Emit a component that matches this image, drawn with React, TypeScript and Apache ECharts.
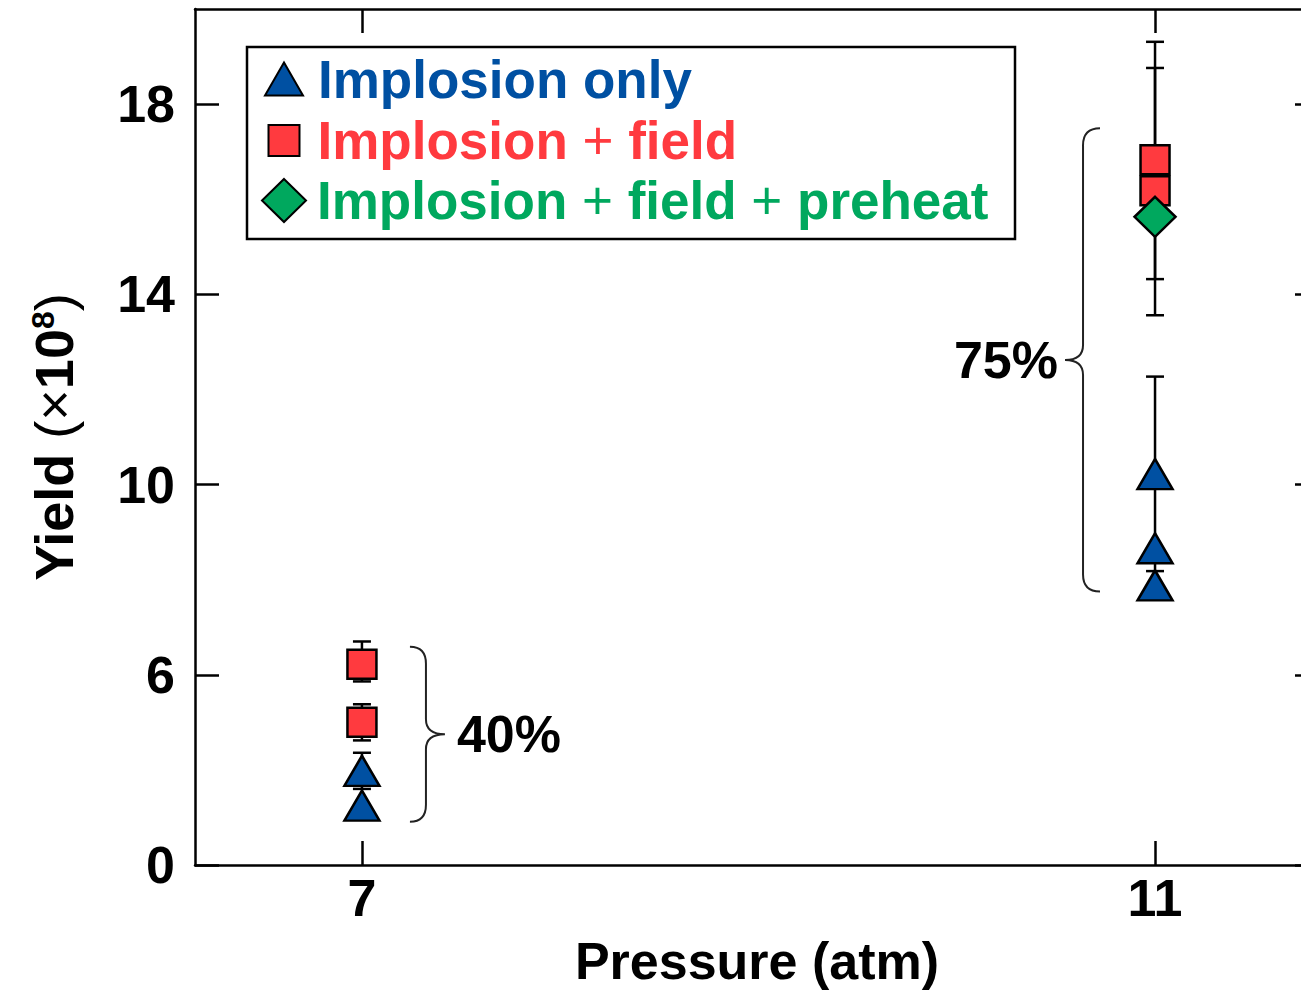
import React, { useEffect, useRef } from "react";
import * as echarts from "echarts";

// ---- data ----
const implosionOnlyX = [7, 7, 11, 11, 11];
const implosionOnlyY = [3.98, 3.25, 10.22, 8.66, 7.88];

const fieldX = [7, 7, 11, 11];
const fieldY = [6.22, 5.0, 16.18, 16.83];

const preheatX = [11];
const preheatY = [15.63];

const errX = [7, 7, 7, 11, 11, 11];
const errLow = [3.6, 5.86, 4.62, 8.18, 14.32, 13.56];
const errHigh = [4.36, 6.7, 5.38, 12.27, 19.31, 18.76];

const braceX = [7, 11];
const braceLow = [2.91, 7.75];
const braceHigh = [6.59, 17.49];
const braceSide = [1, -1];
const braceLabels = ["40%", "75%"];

const xTicks = [7, 11];
const yTicks = [2, 6, 10, 14, 18];
const yTickLabels = ["0", "6", "10", "14", "18"];

const seriesNames = ["Implosion only", "Implosion + field", "Implosion + field + preheat"];

const BLUE = "#0050A2";
const RED = "#FF3A3F";
const GREEN = "#00A85E";
const FONT = "'Liberation Sans', Arial, Helvetica, sans-serif";

export default function App() {
  const ref = useRef<HTMLDivElement>(null);

  useEffect(() => {
    const chart = echarts.init(ref.current!, null, { renderer: "svg" });

    const axisLine = { show: true, lineStyle: { color: "#000", width: 2.5 } };
    const tickStyle = { color: "#000", width: 2.5 };
    const labelStyle = {
      fontSize: 52,
      fontWeight: "bold" as const,
      color: "#000",
      fontFamily: FONT,
    };
    const legendText = (color: string, pad: number) => ({
      ...labelStyle,
      fontSize: 53,
      color,
      padding: [0, 0, 0, pad],
      rich: {
        p: { fontSize: 53, fontWeight: "normal", color, fontFamily: FONT },
      },
    });
    const legendFormatter = (name: string) => name.replace(/\+/g, "{p|+}");

    const option: any = {
      animation: false,
      textStyle: { fontFamily: FONT },
      grid: { left: 195, top: 9, right: 0, bottom: 132, containLabel: false },
      xAxis: [
        {
          type: "value",
          min: 6.158,
          max: 11.827,
          position: "bottom",
          axisLine,
          splitLine: { show: false },
          axisTick: { show: true, inside: true, length: 24, customValues: xTicks, lineStyle: tickStyle },
          axisLabel: { ...labelStyle, customValues: xTicks, margin: 7 },
          name: "Pressure (atm)",
          nameLocation: "middle",
          nameGap: 70,
          nameTextStyle: labelStyle,
        },
        {
          type: "value",
          min: 6.158,
          max: 11.827,
          position: "top",
          axisLine,
          splitLine: { show: false },
          axisTick: { show: true, inside: true, length: 24, customValues: xTicks, lineStyle: tickStyle },
          axisLabel: { show: false },
        },
      ],
      yAxis: [
        {
          type: "value",
          min: 2,
          max: 20,
          position: "left",
          axisLine,
          splitLine: { show: false },
          axisTick: { show: true, inside: true, length: 24, customValues: yTicks, lineStyle: tickStyle },
          axisLabel: {
            ...labelStyle,
            customValues: yTicks,
            margin: 20,
            formatter: (v: number) => yTickLabels[yTicks.indexOf(v)] ?? String(v),
          },
          name: "Yield {n|(×}10{sup|8}{n|)}",
          nameLocation: "middle",
          nameGap: 114,
          nameTextStyle: {
            ...labelStyle,
            fontSize: 54,
            rich: {
              n: { fontSize: 54, fontWeight: "normal", color: "#000", fontFamily: FONT },
              sup: { fontSize: 32, fontWeight: "bold", color: "#000", fontFamily: FONT, verticalAlign: "top" },
            },
          },
        },
        {
          type: "value",
          min: 2,
          max: 20,
          position: "right",
          axisLine,
          splitLine: { show: false },
          axisTick: { show: true, inside: true, length: 24, customValues: yTicks, lineStyle: tickStyle },
          axisLabel: { show: false },
        },
      ],
      legend: [
        {
          data: [seriesNames[0]],
          left: 264,
          top: 52.5,
          padding: 0,
          itemWidth: 38,
          itemHeight: 33,
          selectedMode: false,
          formatter: legendFormatter,
          textStyle: legendText(BLUE, 10),
        },
        {
          data: [seriesNames[1]],
          left: 267.5,
          top: 114,
          padding: 0,
          itemWidth: 31,
          itemHeight: 31,
          selectedMode: false,
          formatter: legendFormatter,
          textStyle: legendText(RED, 13),
        },
        {
          data: [seriesNames[2]],
          left: 261,
          top: 174,
          padding: 0,
          itemWidth: 44,
          itemHeight: 43,
          selectedMode: false,
          formatter: legendFormatter,
          textStyle: legendText(GREEN, 6),
        },
      ],
      graphic: [
        {
          type: "rect",
          shape: { x: 247, y: 47, width: 768, height: 192 },
          style: { fill: "none", stroke: "#000", lineWidth: 2.5 },
          z: 10,
        },
      ],
      series: [
        {
          type: "custom",
          name: "error bars",
          z: 1,
          renderItem: (params: any, api: any) => {
            const x = api.value(0);
            const p = api.coord([x, api.value(2)]);
            const q = api.coord([x, api.value(1)]);
            const st = { stroke: "#000", lineWidth: 2.5 };
            return {
              type: "group",
              children: [
                { type: "line", shape: { x1: p[0], y1: p[1], x2: q[0], y2: q[1] }, style: st },
                { type: "line", shape: { x1: p[0] - 9, y1: p[1], x2: p[0] + 9, y2: p[1] }, style: st },
                { type: "line", shape: { x1: q[0] - 9, y1: q[1], x2: q[0] + 9, y2: q[1] }, style: st },
              ],
            };
          },
          data: errX.map((x, i) => [x, errLow[i], errHigh[i]]),
        },
        {
          type: "custom",
          name: "braces",
          z: 1,
          renderItem: (params: any, api: any) => {
            const x = api.value(0);
            const side = api.value(3);
            const pt = api.coord([x, api.value(2)]);
            const pb = api.coord([x, api.value(1)]);
            const off = side > 0 ? [48, 64, 83] : [55, 72, 90];
            const x0 = pt[0] + side * off[0];
            const xm = pt[0] + side * off[1];
            const x1 = pt[0] + side * off[2];
            const yT = pt[1];
            const yB = pb[1];
            const yM = (yT + yB) / 2;
            const r = 17;
            const rm = 15;
            const d =
              `M${x0},${yT} Q${xm},${yT} ${xm},${yT + r} L${xm},${yM - rm} ` +
              `Q${xm},${yM} ${x1},${yM} Q${xm},${yM} ${xm},${yM + rm} ` +
              `L${xm},${yB - r} Q${xm},${yB} ${x0},${yB}`;
            return {
              type: "group",
              children: [
                {
                  type: "path",
                  shape: { pathData: d },
                  style: { fill: "none", stroke: "#222", lineWidth: 2 },
                },
                {
                  type: "text",
                  x: side > 0 ? x1 + 12 : x1 - 7,
                  y: yM,
                  style: {
                    text: braceLabels[params.dataIndex],
                    fontSize: 52,
                    fontWeight: "bold",
                    fontFamily: FONT,
                    fill: "#000",
                    align: side > 0 ? "left" : "right",
                    verticalAlign: "middle",
                  },
                },
              ],
            };
          },
          data: braceX.map((x, i) => [x, braceLow[i], braceHigh[i], braceSide[i]]),
        },
        {
          type: "scatter",
          name: seriesNames[0],
          z: 3,
          symbol: "triangle",
          symbolSize: [35, 30],
          itemStyle: { color: BLUE, borderColor: "#000", borderWidth: 2.5, opacity: 1 },
          data: implosionOnlyX.map((x, i) => [x, implosionOnlyY[i]]),
        },
        {
          type: "scatter",
          name: seriesNames[1],
          z: 4,
          symbol: "rect",
          symbolSize: 29,
          itemStyle: { color: RED, borderColor: "#000", borderWidth: 2.5, opacity: 1 },
          data: fieldX.map((x, i) => [x, fieldY[i]]),
        },
        {
          type: "scatter",
          name: seriesNames[2],
          z: 5,
          symbol: "diamond",
          symbolSize: [41, 40],
          itemStyle: { color: GREEN, borderColor: "#000", borderWidth: 2.5, opacity: 1 },
          data: preheatX.map((x, i) => [x, preheatY[i]]),
        },
      ],
    };

    chart.setOption(option);
    return () => chart.dispose();
  }, []);

  return (
    <div
      style={{
        position: "absolute",
        left: 0,
        top: 0,
        width: 1301,
        height: 997,
        overflow: "hidden",
        background: "#fff",
      }}
    >
      <div ref={ref} style={{ position: "absolute", left: 0, top: 0, width: 1319, height: 997 }} />
    </div>
  );
}
